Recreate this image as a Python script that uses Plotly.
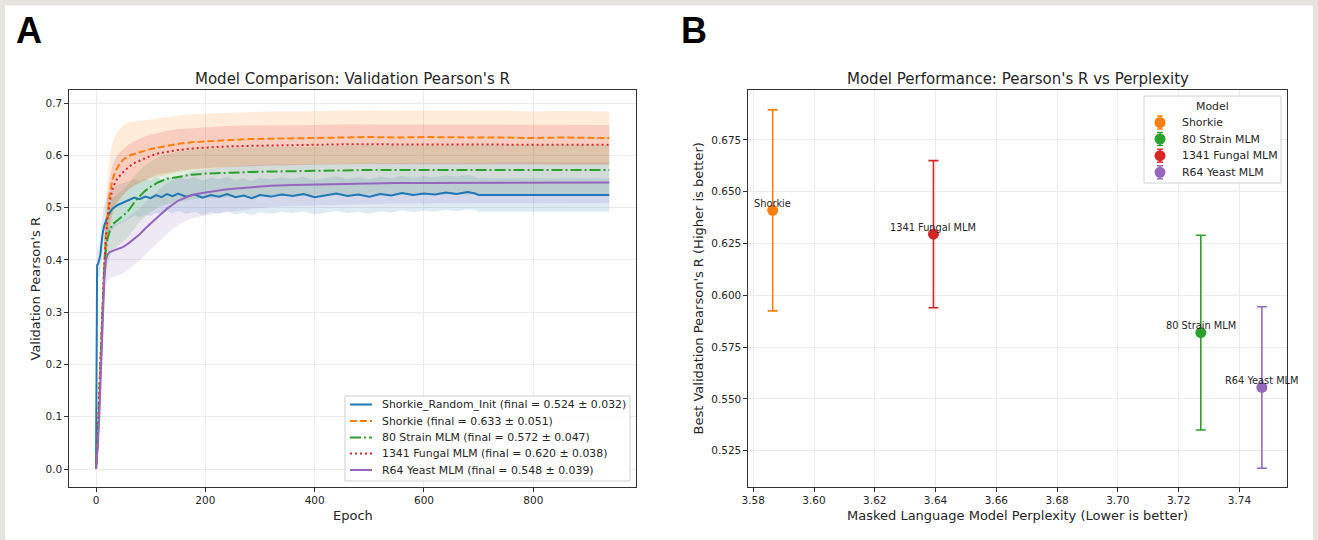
import plotly.graph_objects as go

W, H = 1318, 540

# ---------------- Panel A data ----------------
epochs_main = [0, 3, 6, 9, 12, 15, 18, 21, 25, 30, 35, 40, 50, 60, 70, 80, 90, 100, 115, 130,
               150, 175, 200, 240, 280, 320, 360, 400, 450, 500, 550, 600, 650, 700, 750, 800,
               850, 900, 939]

shorkie_mean = [0.0, 0.06, 0.15, 0.24, 0.32, 0.39, 0.45, 0.49, 0.525, 0.553, 0.568, 0.578, 0.592,
                0.599, 0.603, 0.606, 0.609, 0.612, 0.615, 0.618, 0.622, 0.625, 0.627, 0.629, 0.631,
                0.632, 0.633, 0.634, 0.634, 0.635, 0.634, 0.635, 0.634, 0.634, 0.634, 0.633, 0.634,
                0.633, 0.633]
shorkie_std = [0.0, 0.01, 0.02, 0.03, 0.04, 0.05, 0.06, 0.065, 0.07, 0.07, 0.07, 0.068, 0.066,
               0.064, 0.062, 0.06, 0.058, 0.057, 0.056, 0.055, 0.054, 0.053, 0.053, 0.052, 0.052,
               0.052, 0.051, 0.051, 0.051, 0.051, 0.051, 0.051, 0.051, 0.051, 0.051, 0.051, 0.051,
               0.051, 0.051]

strain80_mean = [0.0, 0.05, 0.13, 0.22, 0.31, 0.38, 0.42, 0.44, 0.455, 0.468, 0.472, 0.476, 0.485,
                 0.495, 0.51, 0.522, 0.532, 0.54, 0.549, 0.555, 0.559, 0.563, 0.565, 0.567, 0.568,
                 0.569, 0.57, 0.571, 0.571, 0.572, 0.572, 0.572, 0.572, 0.573, 0.573, 0.572, 0.573,
                 0.573, 0.572]
strain80_std = [0.0, 0.01, 0.02, 0.03, 0.04, 0.045, 0.05, 0.05, 0.05, 0.05, 0.05, 0.05, 0.05,
                0.05, 0.05, 0.049, 0.049, 0.048, 0.048, 0.048, 0.048, 0.047, 0.047, 0.047, 0.047,
                0.047, 0.047, 0.047, 0.047, 0.047, 0.047, 0.047, 0.047, 0.047, 0.047, 0.047, 0.047,
                0.047, 0.047]

fungal_mean = [0.0, 0.06, 0.15, 0.24, 0.32, 0.385, 0.44, 0.48, 0.51, 0.535, 0.548, 0.557, 0.568,
               0.578, 0.585, 0.59, 0.595, 0.599, 0.604, 0.607, 0.61, 0.613, 0.615, 0.617, 0.618,
               0.619, 0.619, 0.62, 0.621, 0.621, 0.621, 0.621, 0.621, 0.621, 0.62, 0.62, 0.62,
               0.62, 0.62]
fungal_std = [0.0, 0.01, 0.02, 0.03, 0.035, 0.04, 0.045, 0.045, 0.045, 0.045, 0.045, 0.045, 0.044,
              0.043, 0.042, 0.042, 0.041, 0.041, 0.04, 0.04, 0.04, 0.039, 0.039, 0.039, 0.039,
              0.038, 0.038, 0.038, 0.038, 0.038, 0.038, 0.038, 0.038, 0.038, 0.038, 0.038, 0.038,
              0.038, 0.038]

r64_mean = [0.0, 0.04, 0.10, 0.18, 0.27, 0.36, 0.40, 0.41, 0.415, 0.417, 0.419, 0.421, 0.425,
            0.432, 0.44, 0.449, 0.46, 0.47, 0.484, 0.498, 0.513, 0.524, 0.529, 0.535, 0.539,
            0.542, 0.543, 0.544, 0.545, 0.546, 0.547, 0.547, 0.547, 0.548, 0.548, 0.548, 0.548,
            0.548, 0.548]
r64_std = [0.0, 0.01, 0.02, 0.03, 0.04, 0.045, 0.05, 0.05, 0.05, 0.05, 0.05, 0.05, 0.05,
           0.05, 0.05, 0.05, 0.05, 0.05, 0.05, 0.048, 0.046, 0.045, 0.044, 0.043, 0.042,
           0.041, 0.04, 0.04, 0.039, 0.039, 0.039, 0.039, 0.039, 0.039, 0.039, 0.039, 0.039,
           0.039, 0.039]

epochs_random = [0, 1, 2, 4, 6, 8, 10, 12, 15, 20, 25, 30, 40, 50, 60, 70, 80, 90, 100, 110,
                 120, 130, 140, 150, 165, 180, 195, 210, 225, 240, 255, 270, 285, 300, 320, 340,
                 360, 380, 400, 420, 440, 460, 480, 500, 520, 540, 560, 580, 600, 620, 640, 660,
                 680, 694, 700, 939]
random_mean = [0.0, 0.20, 0.39, 0.393, 0.40, 0.41, 0.43, 0.45, 0.465, 0.48, 0.49, 0.498, 0.505,
               0.51, 0.514, 0.519, 0.516, 0.521, 0.518, 0.524, 0.520, 0.526, 0.522, 0.527, 0.521,
               0.525, 0.519, 0.524, 0.521, 0.526, 0.520, 0.523, 0.518, 0.524, 0.521, 0.525, 0.522,
               0.526, 0.520, 0.524, 0.527, 0.522, 0.525, 0.521, 0.526, 0.523, 0.528, 0.524, 0.527,
               0.525, 0.529, 0.526, 0.530, 0.527, 0.524, 0.524]
random_std = [0.0, 0.02, 0.03, 0.03, 0.035, 0.035, 0.04, 0.04, 0.04, 0.04, 0.04, 0.04, 0.038,
              0.037, 0.036, 0.035, 0.035, 0.034, 0.034, 0.034, 0.033, 0.033, 0.033, 0.033, 0.033,
              0.033, 0.033, 0.033, 0.033, 0.033, 0.033, 0.033, 0.033, 0.033, 0.033, 0.033, 0.033,
              0.033, 0.033, 0.033, 0.033, 0.033, 0.033, 0.033, 0.033, 0.033, 0.033, 0.033, 0.033,
              0.033, 0.033, 0.033, 0.033, 0.032, 0.032, 0.032]

model_names_a = ["Shorkie_Random_Init", "Shorkie", "80 Strain MLM", "1341 Fungal MLM", "R64 Yeast MLM"]
final_values = [0.524, 0.633, 0.572, 0.620, 0.548]
final_stds = [0.032, 0.051, 0.047, 0.038, 0.039]

# ---------------- Panel B data ----------------
model_names_b = ["Shorkie", "80 Strain MLM", "1341 Fungal MLM", "R64 Yeast MLM"]
perplexity = [3.5864, 3.7273, 3.6393, 3.7474]
best_r = [0.641, 0.582, 0.6295, 0.5555]
best_r_std = [0.0485, 0.047, 0.0355, 0.039]

x_ticks_a = [0, 200, 400, 600, 800]
y_ticks_a = [0.0, 0.1, 0.2, 0.3, 0.4, 0.5, 0.6, 0.7]
x_ticks_b = [3.58, 3.60, 3.62, 3.64, 3.66, 3.68, 3.70, 3.72, 3.74]
y_ticks_b = [0.525, 0.550, 0.575, 0.600, 0.625, 0.650, 0.675]

# ---------------- styles ----------------
C_BLUE, C_ORANGE, C_GREEN, C_RED, C_PURPLE = "#1f77b4", "#ff7f0e", "#2ca02c", "#d62728", "#9467bd"
DASH_SOLID = "solid"
DASH_DASHED = "7px,3px"
DASH_DASHDOT = "11px,3px,2px,3px"
DASH_DOT = "2px,3px"

colors_a = [C_BLUE, C_ORANGE, C_GREEN, C_RED, C_PURPLE]
dashes_a = [DASH_SOLID, DASH_DASHED, DASH_DASHDOT, DASH_DOT, DASH_SOLID]
colors_b = [C_ORANGE, C_GREEN, C_RED, C_PURPLE]

FONT = "DejaVu Sans"
TXT = "#262626"


def rgba(h, a):
    h = h.lstrip("#")
    return "rgba(%d,%d,%d,%.3f)" % (int(h[0:2], 16), int(h[2:4], 16), int(h[4:6], 16), a)


def px(x):
    return x / W


def py(y):
    return 1 - y / H


fig = go.Figure()

series = [
    (epochs_random, random_mean, random_std),
    (epochs_main, shorkie_mean, shorkie_std),
    (epochs_main, strain80_mean, strain80_std),
    (epochs_main, fungal_mean, fungal_std),
    (epochs_main, r64_mean, r64_std),
]

for i, (ep, m, s) in enumerate(series):
    lo = [a - b for a, b in zip(m, s)]
    hi = [a + b for a, b in zip(m, s)]
    fig.add_trace(go.Scatter(x=ep, y=lo, mode="lines", line=dict(width=0, color=colors_a[i]),
                             hoverinfo="skip", showlegend=False, xaxis="x", yaxis="y"))
    fig.add_trace(go.Scatter(x=ep, y=hi, mode="lines", line=dict(width=0, color=colors_a[i]),
                             fill="tonexty", fillcolor=rgba(colors_a[i], 0.15),
                             hoverinfo="skip", showlegend=False, xaxis="x", yaxis="y"))
for i, (ep, m, s) in enumerate(series):
    fig.add_trace(go.Scatter(x=ep, y=m, mode="lines", name=model_names_a[i],
                             line=dict(width=2, color=colors_a[i], dash=dashes_a[i]),
                             showlegend=False, xaxis="x", yaxis="y"))

# Panel B scatter with error bars
for i, name in enumerate(model_names_b):
    fig.add_trace(go.Scatter(
        x=[perplexity[i]], y=[best_r[i]], mode="markers", name=name,
        marker=dict(color=colors_b[i], size=11),
        error_y=dict(type="data", array=[best_r_std[i]], visible=True, color=colors_b[i],
                     thickness=1.6, width=5),
        xaxis="x2", yaxis="y2", showlegend=False))

axis_common = dict(showline=True, mirror=True, linecolor="#333333", linewidth=1,
                   ticks="outside", ticklen=4, tickwidth=1, tickcolor="#333333",
                   showgrid=True, gridcolor="#ebebeb", gridwidth=1, zeroline=False,
                   tickfont=dict(size=10.5, color=TXT, family=FONT), automargin=False)

fig.update_layout(
    width=W, height=H, margin=dict(l=0, r=0, t=0, b=0),
    paper_bgcolor="white", plot_bgcolor="white",
    font=dict(family=FONT, size=11, color=TXT),
    xaxis=dict(domain=[px(69.4), px(635.5)], range=[-48.7, 987], anchor="y",
               tickvals=x_ticks_a, ticktext=[str(v) for v in x_ticks_a], **axis_common),
    yaxis=dict(domain=[py(486.7), py(90)], range=[-0.0338, 0.7249], anchor="x",
               tickvals=y_ticks_a, ticktext=["%.1f" % v for v in y_ticks_a], **axis_common),
    xaxis2=dict(domain=[px(748.4), px(1287.1)], range=[3.5784, 3.7557], anchor="y2",
                tickvals=x_ticks_b, ticktext=["%.2f" % v for v in x_ticks_b], **axis_common),
    yaxis2=dict(domain=[py(486.7), py(90)], range=[0.5076, 0.6991], anchor="x2",
                tickvals=y_ticks_b, ticktext=["%.3f" % v for v in y_ticks_b], **axis_common),
    showlegend=False,
)

shapes = []
annotations = []
border_col = "#e6e4df"
shapes.append(dict(type="rect", xref="paper", yref="paper", x0=0, x1=1, y0=py(5.5), y1=1,
                   fillcolor=border_col, line=dict(width=0), layer="below"))
shapes.append(dict(type="rect", xref="paper", yref="paper", x0=0, x1=px(5), y0=0, y1=1,
                   fillcolor=border_col, line=dict(width=0), layer="below"))
shapes.append(dict(type="rect", xref="paper", yref="paper", x0=px(1313), x1=1, y0=0, y1=1,
                   fillcolor=border_col, line=dict(width=0), layer="below"))

# legend for panel A
shapes.append(dict(type="rect", xref="paper", yref="paper", x0=px(345), x1=px(630),
                   y0=py(481), y1=py(396), fillcolor="rgba(255,255,255,0.85)",
                   line=dict(color="#d0d0d0", width=1), layer="above"))
row_y = [404.5, 421, 437.5, 453.5, 470]
for i, name in enumerate(model_names_a):
    shapes.append(dict(type="line", xref="paper", yref="paper", x0=px(350), x1=px(372),
                       y0=py(row_y[i]), y1=py(row_y[i]),
                       line=dict(color=colors_a[i], width=2, dash=dashes_a[i]), layer="above"))
    annotations.append(dict(xref="paper", yref="paper", x=px(380), y=py(row_y[i]),
                            xanchor="left", yanchor="middle", showarrow=False,
                            text="%s (final = %.3f ± %.3f)" % (name, final_values[i], final_stds[i]),
                            font=dict(size=10.9, color=TXT, family=FONT)))

# legend for panel B
shapes.append(dict(type="rect", xref="paper", yref="paper", x0=px(1144), x1=px(1281),
                   y0=py(183), y1=py(96), fillcolor="rgba(255,255,255,0.85)",
                   line=dict(color="#d0d0d0", width=1), layer="above"))
annotations.append(dict(xref="paper", yref="paper", x=px(1212.5), y=py(106.5), text="Model",
                        xanchor="center", yanchor="middle", showarrow=False,
                        font=dict(size=10.9, color=TXT, family=FONT)))
row_yb = [122.5, 139, 155.7, 172.3]
mx = 1160
for i, name in enumerate(model_names_b):
    yy = row_yb[i]
    shapes.append(dict(type="line", xref="paper", yref="paper", x0=px(mx), x1=px(mx),
                       y0=py(yy + 6.5), y1=py(yy - 6.5),
                       line=dict(color=colors_b[i], width=1.6), layer="above"))
    for cy in (yy - 6.5, yy + 6.5):
        shapes.append(dict(type="line", xref="paper", yref="paper", x0=px(mx - 3), x1=px(mx + 3),
                           y0=py(cy), y1=py(cy),
                           line=dict(color=colors_b[i], width=1.4), layer="above"))
    shapes.append(dict(type="circle", xref="paper", yref="paper", x0=px(mx - 5.5), x1=px(mx + 5.5),
                       y0=py(yy + 5.5), y1=py(yy - 5.5), fillcolor=colors_b[i],
                       line=dict(width=0), layer="above"))
    annotations.append(dict(xref="paper", yref="paper", x=px(1179.5), y=py(yy), text=name,
                            xanchor="left", yanchor="middle", showarrow=False,
                            font=dict(size=10.9, color=TXT, family=FONT)))

# titles, labels, panel letters
annotations += [
    dict(xref="paper", yref="paper", x=px(352.5), y=py(79), text="Model Comparison: Validation Pearson's R",
         showarrow=False, xanchor="center", yanchor="middle", font=dict(size=15, color=TXT)),
    dict(xref="paper", yref="paper", x=px(1017.8), y=py(79), text="Model Performance: Pearson's R vs Perplexity",
         showarrow=False, xanchor="center", yanchor="middle", font=dict(size=15, color=TXT)),
    dict(xref="paper", yref="paper", x=px(352.5), y=py(515), text="Epoch",
         showarrow=False, xanchor="center", yanchor="middle", font=dict(size=13, color=TXT)),
    dict(xref="paper", yref="paper", x=px(1017.8), y=py(515.5),
         text="Masked Language Model Perplexity (Lower is better)",
         showarrow=False, xanchor="center", yanchor="middle", font=dict(size=13, color=TXT)),
    dict(xref="paper", yref="paper", x=px(35), y=py(288.5), text="Validation Pearson's R", textangle=-90,
         showarrow=False, xanchor="center", yanchor="middle", font=dict(size=13, color=TXT)),
    dict(xref="paper", yref="paper", x=px(698), y=py(288.5),
         text="Best Validation Pearson's R (Higher is better)", textangle=-90,
         showarrow=False, xanchor="center", yanchor="middle", font=dict(size=13, color=TXT)),
    dict(xref="paper", yref="paper", x=px(29), y=py(31), text="<b>A</b>",
         showarrow=False, xanchor="center", yanchor="middle",
         font=dict(size=36, color="black", family="Liberation Sans")),
    dict(xref="paper", yref="paper", x=px(694), y=py(31), text="<b>B</b>",
         showarrow=False, xanchor="center", yanchor="middle",
         font=dict(size=36, color="black", family="Liberation Sans")),
]

for i, name in enumerate(model_names_b):
    annotations.append(dict(xref="x2", yref="y2", x=perplexity[i], y=best_r[i], text=name,
                            yshift=7, showarrow=False, xanchor="center", yanchor="middle",
                            font=dict(size=9.8, color=TXT, family=FONT)))

fig.update_layout(shapes=shapes, annotations=annotations)

fig.write_html("out.html", config={"displayModeBar": False},
               post_script="document.body.style.margin='0';document.body.style.overflow='hidden';")
